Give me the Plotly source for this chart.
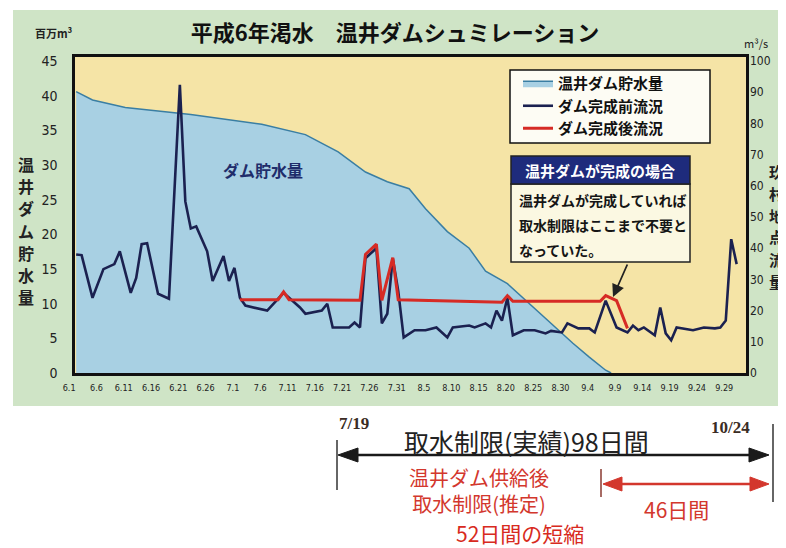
import plotly.graph_objects as go

# ---------------- data ----------------
title_text = "平成6年渇水　温井ダムシュミレーション"

storage_dates = ["1994-06-01", "1994-06-04", "1994-06-10", "1994-06-18", "1994-06-22",
                 "1994-07-05", "1994-07-13", "1994-07-19", "1994-07-24", "1994-07-28",
                 "1994-08-01", "1994-08-04", "1994-08-08", "1994-08-12", "1994-08-15",
                 "1994-08-19", "1994-08-23", "1994-08-27", "1994-08-31", "1994-09-03",
                 "1994-09-06", "1994-09-07"]
storage_values = [40.6, 39.4, 38.3, 37.6, 37.3,
                  35.9, 34.4, 31.9, 29.0, 27.6,
                  26.6, 23.7, 20.4, 18.0, 14.7,
                  12.9, 10.0, 7.1, 4.3, 2.3,
                  0.4, 0.0]

before_dates = ["1994-06-01", "1994-06-02", "1994-06-04", "1994-06-06", "1994-06-08",
                "1994-06-09", "1994-06-11", "1994-06-12", "1994-06-13", "1994-06-14",
                "1994-06-16", "1994-06-18", "1994-06-20", "1994-06-21", "1994-06-22",
                "1994-06-23", "1994-06-25", "1994-06-26", "1994-06-28", "1994-06-29",
                "1994-06-30", "1994-07-01", "1994-07-02", "1994-07-06", "1994-07-09",
                "1994-07-12", "1994-07-13", "1994-07-16", "1994-07-17", "1994-07-18",
                "1994-07-21", "1994-07-22", "1994-07-23", "1994-07-24", "1994-07-26",
                "1994-07-27", "1994-07-28", "1994-07-29", "1994-07-30", "1994-07-31",
                "1994-08-02", "1994-08-04", "1994-08-06", "1994-08-08", "1994-08-09",
                "1994-08-12", "1994-08-13", "1994-08-15", "1994-08-16", "1994-08-17",
                "1994-08-18", "1994-08-19", "1994-08-20", "1994-08-22", "1994-08-24",
                "1994-08-26", "1994-08-27", "1994-08-29", "1994-08-30", "1994-09-01",
                "1994-09-03", "1994-09-04", "1994-09-06", "1994-09-08", "1994-09-10",
                "1994-09-11", "1994-09-12", "1994-09-13", "1994-09-15", "1994-09-16",
                "1994-09-17", "1994-09-18", "1994-09-19", "1994-09-22", "1994-09-24",
                "1994-09-26", "1994-09-27", "1994-09-28", "1994-09-29", "1994-09-30"]
before_values = [38.0, 37.8, 24.1, 33.3, 34.9,
                 39.0, 25.7, 30.5, 41.3, 41.6,
                 25.4, 23.8, 92.4, 55.0, 46.3,
                 47.0, 39.0, 29.5, 37.5, 29.5,
                 33.7, 24.1, 21.6, 20.0, 25.7,
                 21.0, 19.0, 20.0, 22.2, 14.6,
                 14.6, 16.2, 14.6, 36.8, 40.0,
                 15.9, 19.0, 36.8, 26.3, 11.4,
                 13.7, 13.7, 14.6, 11.4, 14.6,
                 15.2, 14.6, 15.9, 14.6, 20.0,
                 16.8, 24.1, 12.1, 13.7, 13.7,
                 12.7, 13.5, 13.0, 15.9, 14.3,
                 14.3, 13.0, 23.2, 14.6, 13.0,
                 15.2, 13.7, 14.6, 12.1, 21.0,
                 12.7, 10.5, 14.6, 13.7, 14.6,
                 14.3, 14.6, 16.8, 42.9, 34.9]

after_dates = ["1994-07-01", "1994-07-08", "1994-07-09", "1994-07-10", "1994-07-23",
               "1994-07-24", "1994-07-26", "1994-07-27", "1994-07-29", "1994-07-30",
               "1994-08-18", "1994-08-19", "1994-08-20", "1994-09-05", "1994-09-06",
               "1994-09-08", "1994-09-10"]
after_values = [23.5, 23.5, 26.0, 23.5, 23.3,
                38.0, 41.3, 23.3, 37.0, 23.5,
                22.7, 24.8, 23.0, 23.0, 24.8,
                23.2, 14.3]

tick_dates = ["1994-06-01", "1994-06-06", "1994-06-11", "1994-06-16", "1994-06-21",
              "1994-06-26", "1994-07-01", "1994-07-06", "1994-07-11", "1994-07-16",
              "1994-07-21", "1994-07-26", "1994-07-31", "1994-08-05", "1994-08-10",
              "1994-08-15", "1994-08-20", "1994-08-25", "1994-08-30", "1994-09-04",
              "1994-09-09", "1994-09-14", "1994-09-19", "1994-09-24", "1994-09-29"]
tick_labels = ["6.1", "6.6", "6.11", "6.16", "6.21", "6.26", "7.1", "7.6", "7.11", "7.16",
               "7.21", "7.26", "7.31", "8.5", "8.10", "8.15", "8.20", "8.25", "8.30", "9.4",
               "9.9", "9.14", "9.19", "9.24", "9.29"]
left_ticks = [0, 5, 10, 15, 20, 25, 30, 35, 40, 45]
right_ticks = [0, 10, 20, 30, 40, 50, 60, 70, 80, 90, 100]

name_storage = "温井ダム貯水量"
name_before = "ダム完成前流況"
name_after = "ダム完成後流況"
left_title = "温井ダム貯水量"
right_title = "玖村地点流量"
box_header = "温井ダムが完成の場合"
box_lines = ["温井ダムが完成していれば", "取水制限はここまで不要と", "なっていた。"]

# ---------------- geometry ----------------
# The page shows the figure with an 8px body margin, so the figure is
# sized to fill the remaining window; all pixel positions below are window pixels.
OFF = 8
WIN_W, WIN_H = 786, 548
W, H = WIN_W - OFF, WIN_H - OFF
PLOT_L, PLOT_R, PLOT_T, PLOT_B = 75, 746, 57, 373
L = PLOT_L - OFF
T = PLOT_T - OFF
R = WIN_W - PLOT_R
B = WIN_H - PLOT_B
PW = PLOT_R - PLOT_L
PH = PLOT_B - PLOT_T


def px(x):
    return (x - PLOT_L) / PW


def py(y):
    return (PLOT_B - y) / PH


JP = "Noto Sans CJK JP"
NUM = "DejaVu Sans Condensed, Liberation Sans Narrow, DejaVu Sans, sans-serif"
SERIF = "Liberation Serif, DejaVu Serif, serif"
RED = "#d3372d"
NAVY = "#1b2150"

fig = go.Figure()
fig.add_trace(go.Scatter(
    x=storage_dates, y=storage_values, name=name_storage, mode="lines",
    fill="tozeroy", fillcolor="#a8d0e3", line=dict(color="#3a7ea3", width=1.5),
    yaxis="y"))
fig.add_trace(go.Scatter(
    x=before_dates, y=before_values, name=name_before, mode="lines",
    line=dict(color=NAVY, width=2.6), yaxis="y2"))
fig.add_trace(go.Scatter(
    x=after_dates, y=after_values, name=name_after, mode="lines",
    line=dict(color="#d62b25", width=3), yaxis="y2"))

shapes = []
# green panel and yellow plot area
shapes.append(dict(type="rect", xref="paper", yref="paper", x0=px(13), x1=px(800),
                   y0=py(406), y1=py(10), fillcolor="#cfe4c6", line=dict(width=0), layer="below"))
shapes.append(dict(type="rect", xref="paper", yref="paper", x0=0, x1=1, y0=0, y1=1,
                   fillcolor="#f5e4a6", line=dict(width=0), layer="below"))
# legend box
shapes.append(dict(type="rect", xref="paper", yref="paper", x0=px(510), x1=px(710),
                   y0=py(143), y1=py(70), fillcolor="#fdfcf4", line=dict(color="#111", width=1.5),
                   layer="above"))
# callout box
shapes.append(dict(type="rect", xref="paper", yref="paper", x0=px(511), x1=px(690),
                   y0=py(262), y1=py(184), fillcolor="#fbf8e2", line=dict(color="#222", width=1.5),
                   layer="above"))
shapes.append(dict(type="rect", xref="paper", yref="paper", x0=px(511), x1=px(690),
                   y0=py(184), y1=py(156), fillcolor="#1e2b7c", line=dict(color="#222", width=1.5),
                   layer="above"))


def hline(x0, x1, y, color, width):
    shapes.append(dict(type="line", xref="paper", yref="paper", x0=px(x0), x1=px(x1),
                       y0=py(y), y1=py(y), line=dict(color=color, width=width)))


def vline(x, y0, y1, color, width):
    shapes.append(dict(type="line", xref="paper", yref="paper", x0=px(x), x1=px(x),
                       y0=py(y0), y1=py(y1), line=dict(color=color, width=width)))


def tri(tipx, basex, y, half, color):
    path = "M {:.5f},{:.5f} L {:.5f},{:.5f} L {:.5f},{:.5f} Z".format(
        px(tipx), py(y), px(basex), py(y - half), px(basex), py(y + half))
    shapes.append(dict(type="path", xref="paper", yref="paper", path=path,
                       fillcolor=color, line=dict(color=color, width=1)))


# bottom period arrows
hline(350, 758, 455, "#1a1a1a", 2.5)
tri(338, 358, 455, 7, "#1a1a1a")
tri(769, 749, 455, 7, "#1a1a1a")
vline(337, 440, 490, "#333", 1.5)
vline(773, 424, 502, "#333", 1.5)
hline(612, 758, 484, RED, 2.5)
tri(603, 622, 484, 7, RED)
tri(769, 750, 484, 7, RED)
vline(601, 469, 497, "#8a3a30", 1.5)

annotations = []


def ann(x, y, text, size, color, family=JP, weight="normal", xanchor="center", **kw):
    annotations.append(dict(xref="paper", yref="paper", x=px(x), y=py(y), text=text,
                            showarrow=False, xanchor=xanchor, yanchor="middle",
                            font=dict(family=family, size=size, color=color, weight=weight), **kw))


ann(54, 33, "百万m³", 11, "#222", weight="bold")
ann(756, 43, "m³/s", 11, "#222")
for i, ch in enumerate(left_title):
    ann(26, 164 + i * 22.2, ch, 16, "#222", weight="bold")
for i, ch in enumerate(right_title):
    ann(777, 171 + i * 22, ch, 15, "#222", weight="bold")
ann(263, 170, "ダム貯水量", 16, "#1f2d6b", weight="bold")
ann(600, 170, box_header, 15, "white", weight="bold")
for i, line in enumerate(box_lines):
    ann(517, 200 + i * 25, line, 14, "#151515", weight="bold", xanchor="left")

# callout arrow to the point where the restriction ends
annotations.append(dict(xref="paper", yref="paper", x=px(613), y=py(297), text="",
                        showarrow=True, ax=15, ay=-34, arrowhead=2, arrowsize=1.4,
                        arrowwidth=1.8, arrowcolor="#222"))

# bottom texts
ann(354, 423, "7/19", 17, "#3a2c24", family=SERIF, weight="bold")
ann(730, 427, "10/24", 17, "#3a2c24", family=SERIF, weight="bold")
ann(526, 441, "取水制限(実績)98日間", 25, "#222")
ann(479, 490, "温井ダム供給後<br>取水制限(推定)", 20, RED)
ann(676, 509, "46日間", 21, RED)
ann(520, 533, "52日間の短縮", 21, "#d82a20")

fig.update_layout(
    width=W, height=H,
    margin=dict(l=L, r=R, t=T, b=B),
    paper_bgcolor="white", plot_bgcolor="#f5e4a6",
    title=dict(text=title_text, x=(395 - OFF) / W, xanchor="center",
               y=1 - (33 - OFF) / H, yanchor="middle",
               font=dict(family=JP, size=22, color="#111", weight="bold")),
    showlegend=True,
    legend=dict(x=px(518), y=py(67), xanchor="left", yanchor="top",
                bgcolor="rgba(0,0,0,0)", borderwidth=0,
                font=dict(family=JP, size=15, color="#111", weight="bold"),
                traceorder="normal", itemwidth=30, tracegroupgap=0),
    xaxis=dict(type="date", range=["1994-05-31 19:00", "1994-10-01 17:00"],
               tickvals=tick_dates, ticktext=tick_labels, ticks="",
               tickfont=dict(family=NUM, size=9, color="#222"),
               ticklabelstandoff=4, ticklabelshift=-7,
               showgrid=False, zeroline=False,
               showline=True, linecolor="#111", linewidth=2.5, mirror=True),
    yaxis=dict(range=[0, 45.6], tickvals=left_ticks, ticks="",
               tickfont=dict(family=NUM, size=14, color="#222"),
               ticklabelstandoff=12,
               showgrid=False, zeroline=False,
               showline=True, linecolor="#111", linewidth=2.5, mirror=True),
    yaxis2=dict(range=[0, 101.3], tickvals=right_ticks, ticks="", overlaying="y", side="right",
                tickfont=dict(family=NUM, size=12, color="#222"),
                ticklabelstandoff=3,
                showgrid=False, zeroline=False, showline=False),
    shapes=shapes,
    annotations=annotations,
)

fig.write_html("out.html")
